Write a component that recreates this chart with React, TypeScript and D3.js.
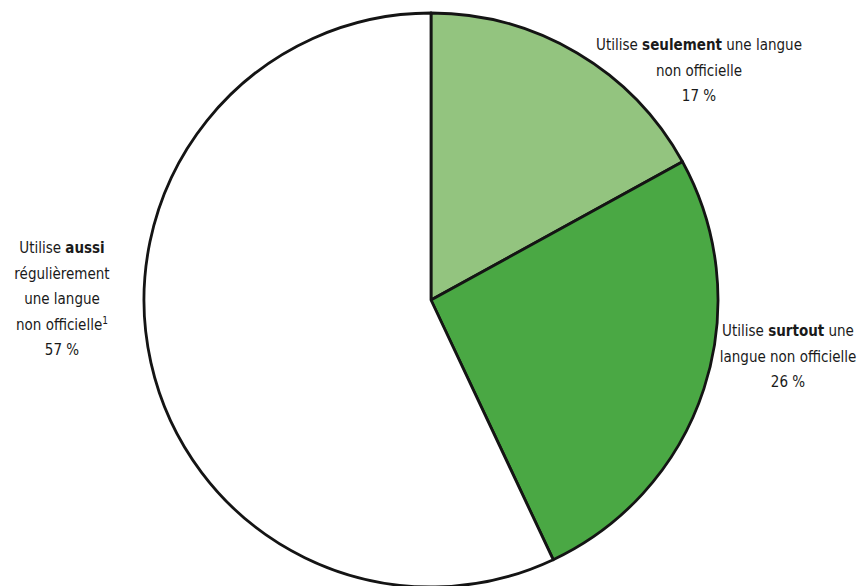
import React from "react";
import * as d3 from "d3";

const categories = ["seulement", "surtout", "aussi"];
const values = [17, 26, 57];
const colors = ["#93c47f", "#4aa844", "#ffffff"];

type Seg = { t: string; b?: boolean; sup?: boolean };
const labelLines: Seg[][][] = [
  [
    [{ t: "Utilise " }, { t: "seulement", b: true }, { t: " une langue" }],
    [{ t: "non officielle" }],
    [{ t: "17 %" }],
  ],
  [
    [{ t: "Utilise " }, { t: "surtout", b: true }, { t: " une" }],
    [{ t: "langue non officielle" }],
    [{ t: "26 %" }],
  ],
  [
    [{ t: "Utilise " }, { t: "aussi", b: true }],
    [{ t: "régulièrement" }],
    [{ t: "une langue" }],
    [{ t: "non officielle" }, { t: "1", sup: true }],
    [{ t: "57 %" }],
  ],
];
const labelPos = [
  { x: 699, y: 50 },
  { x: 788, y: 336 },
  { x: 62, y: 253 },
];

export default function App() {
  const W = 863, H = 586;
  const cx = 431, cy = 300, r = 287;
  const pie = d3.pie<number>().sort(null).value((d) => d)(values);
  const arc = d3.arc<d3.PieArcDatum<number>>().innerRadius(0).outerRadius(r);
  const font = "'DejaVu Sans Condensed', 'Liberation Sans Narrow', sans-serif";
  const lh = 25.5;
  return (
    <svg width={W} height={H} style={{ position: "absolute", left: 0, top: 0, background: "#fff" }}>
      <g transform={`translate(${cx},${cy})`}>
        {pie.map((p, i) => (
          <path key={categories[i]} d={arc(p) || ""} fill={colors[i]} stroke="#141414" strokeWidth={2.8} strokeLinejoin="round" />
        ))}
      </g>
      {labelLines.map((lines, i) => (
        <text key={i} fontFamily={font} fontSize={15} fill="#1a1a1a" textAnchor="middle">
          {lines.map((segs, j) => (
            <tspan key={j} x={labelPos[i].x} y={labelPos[i].y + j * lh}>
              {segs.map((s, k) =>
                s.sup ? (
                  <tspan key={k} fontSize={10} dy={-6}>{s.t}</tspan>
                ) : (
                  <tspan key={k} fontWeight={s.b ? "bold" : "normal"}>{s.t}</tspan>
                )
              )}
            </tspan>
          ))}
        </text>
      ))}
    </svg>
  );
}
